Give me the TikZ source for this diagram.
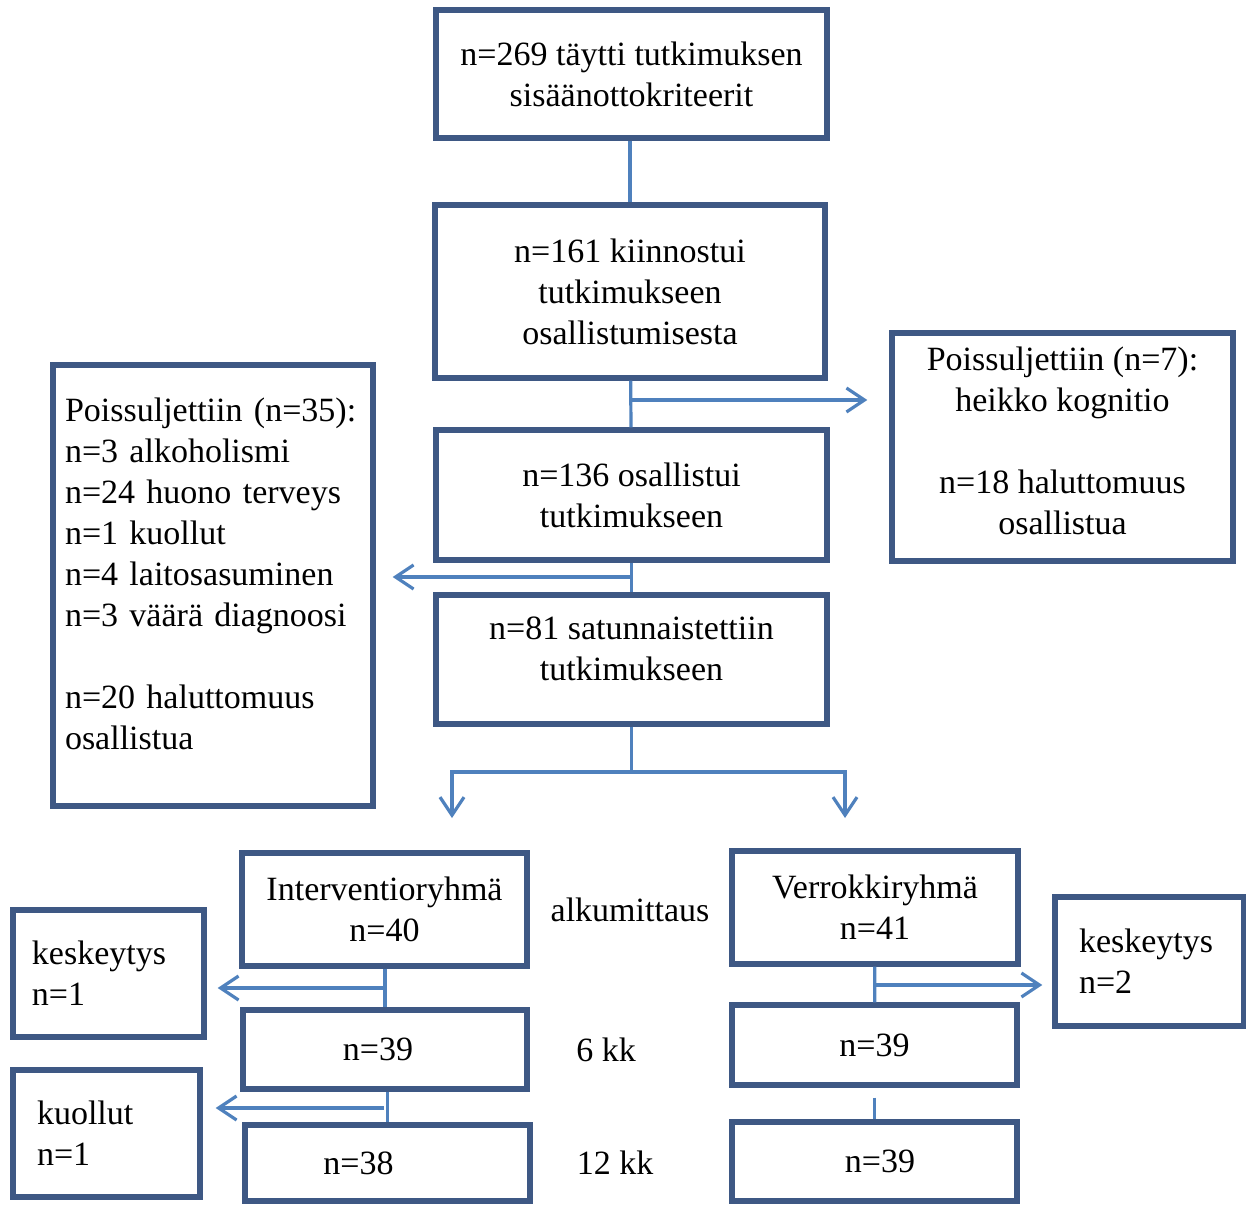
\documentclass[tikz,border=0pt]{standalone}
\usepackage{fontspec}
\setmainfont{Liberation Serif}
\usetikzlibrary{arrows.meta}
\definecolor{boxc}{RGB}{62,88,132}
\definecolor{linkc}{RGB}{79,129,189}

\begin{document}
\begin{tikzpicture}[x=0.5pt, y=-0.5pt,
    every node/.style={font=\fontsize{17}{20.5}\selectfont},
    box/.style={draw=boxc, line width=2.7pt, align=center, inner sep=0pt},
    lbox/.style={box, align=left},
    link/.style={draw=linkc, line width=1.6pt},
    arr/.style={link, -{Straight Barb[length=9pt,width=12pt]}}]
    \useasboundingbox (0,0) rectangle (1246,1205);

    \node[box, minimum width=195.5pt, minimum height=64pt] (top) at (631.5,74) {n=269 täytti tutkimuksen\\sisäänottokriteerit};
    \node[box, minimum width=195pt, minimum height=86.5pt] (b161) at (630,291.5) {n=161 kiinnostui\\tutkimukseen\\osallistumisesta};
    \node[box, minimum width=170.5pt, minimum height=114pt] (excl7) at (1062.5,447) {Poissuljettiin (n=7):\\heikko kognitio\\[20.5pt]n=18 haluttomuus\\osallistua\\[-14.5pt]\mbox{}};
    \node[box, minimum width=195.5pt, minimum height=65pt] (b136) at (631.5,495) {n=136 osallistui\\tutkimukseen};
    \node[lbox, inner xsep=6pt, text width=148pt, minimum height=220.5pt] (excl35) at (213,585.5) {Poissuljettiin (n=35):\\n=3 alkoholismi\\n=24 huono terveys\\n=1 kuollut\\n=4 laitosasuminen\\n=3 väärä diagnoosi\\[20.5pt]n=20 haluttomuus\\osallistua\\[-8.5pt]\mbox{}};
    \node[box, minimum width=195.5pt, minimum height=64.5pt] (b81) at (631.5,659.5) {n=81 satunnaistettiin\\tutkimukseen\\[-9.5pt]\mbox{}};

    \node[box, minimum width=142.5pt, minimum height=56.5pt] (int) at (384.5,909.5) {Interventioryhmä\\n=40};
    \node[box, minimum width=143pt, minimum height=56.5pt] (ver) at (875,907.5) {Verrokkiryhmä\\n=41};
    \node (alku) at (630,910) {alkumittaus};
    \node[lbox, inner xsep=9.5pt, text width=76.5pt, minimum height=63.5pt] (kesL) at (108.5,973.5) {keskeytys\\n=1};
    \node[lbox, inner xsep=12pt, text width=70.5pt, minimum height=64.5pt] (kesR) at (1149.5,961.5) {keskeytys\\n=2};

    \node[box, minimum width=142pt, minimum height=39.5pt] (i6) at (385,1049.5) {n=39\hspace*{7pt}};
    \node[box, minimum width=142.5pt, minimum height=40pt] (v6) at (874.5,1045) {n=39};
    \node (kk6) at (606,1050) {6 kk};
    \node[lbox, inner xsep=12pt, text width=69.5pt, minimum height=63.5pt] (kuo) at (106.5,1133.5) {kuollut\\n=1};

    \node[box, minimum width=142.5pt, minimum height=38pt] (i12) at (387.5,1163) {n=38\hspace*{29pt}};
    \node[box, minimum width=142.5pt, minimum height=39.5pt] (v12) at (874.5,1161.5) {\hspace*{5.5pt}n=39};
    \node (kk12) at (615,1163) {12 kk};

    \coordinate (j1) at (630,400);
    \coordinate (j2) at (630,577);
    \coordinate (sL) at (452,772);
    \coordinate (sR) at (845,772);
    \coordinate (j3) at (384,988);
    \coordinate (j4) at (384,1108);
    \coordinate (j5) at (875,985);

    \draw[link] (top.south -| b161.north) -- (b161.north);
    \draw[link] (b161) -- (b136);
    \draw[arr] (j1) -- ([xshift=-11pt]excl7.west |- j1);
    \draw[link] (b136.south -| b81.north) -- (b81.north);
    \draw[arr] (j2) -- ([xshift=8.5pt]excl35.east |- j2);
    \draw[link] (b81.south) -- (b81.south |- sL);
    \draw[arr] (b81.south |- sL) -- (sL) -- ++(0,46);
    \draw[arr] (b81.south |- sR) -- (sR) -- ++(0,46);

    \draw[link] (int.south -| i6.north) -- (i6.north);
    \draw[arr] (j3) -- ([xshift=5.5pt]kesL.east |- j3);
    \draw[link] (i6.south -| i12.north) -- (i12.north);
    \draw[arr] (j4) -- ([xshift=6.5pt]kuo.east |- j4);
    \draw[link] (ver) -- (v6);
    \draw[arr] (j5) -- ([xshift=-5pt]kesR.west |- j5);
    \draw[link] ([yshift=-5pt]v6.south) -- (v12.north);
\end{tikzpicture}
\end{document}
